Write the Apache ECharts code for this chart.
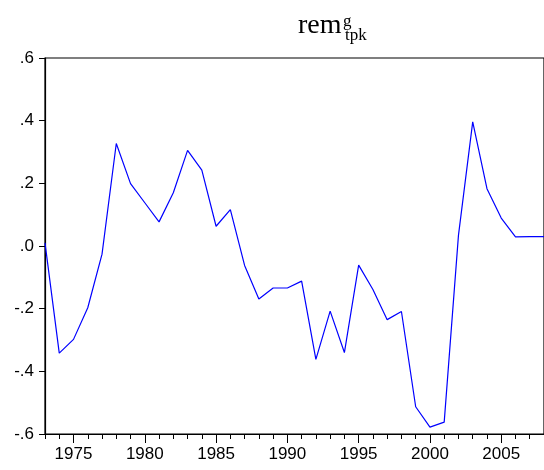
<!DOCTYPE html>
<html>
<head>
<meta charset="utf-8">
<script src="https://cdn.jsdelivr.net/npm/echarts@6/dist/echarts.min.js"></script>
<style>
  html, body { margin: 0; padding: 0; background: #fff; }
  #chart { width: 544px; height: 470px; }
</style>
</head>
<body>
<div id="chart"></div>
<script>
// Annual series, 1973-2008
const years = [
  1973, 1974, 1975, 1976, 1977, 1978, 1979, 1980, 1981, 1982, 1983, 1984,
  1985, 1986, 1987, 1988, 1989, 1990, 1991, 1992, 1993, 1994, 1995, 1996,
  1997, 1998, 1999, 2000, 2001, 2002, 2003, 2004, 2005, 2006, 2007, 2008
];
const remValues = [
  0.010, -0.342, -0.298, -0.197, -0.026, 0.327, 0.199, 0.138, 0.077, 0.170, 0.305, 0.242,
  0.063, 0.116, -0.062, -0.169, -0.134, -0.134, -0.112, -0.362, -0.208, -0.340, -0.061, -0.139,
  -0.235, -0.209, -0.513, -0.578, -0.562, 0.034, 0.396, 0.183, 0.089, 0.029, 0.030, 0.030
];
const yTicks = [-0.6, -0.4, -0.2, 0.0, 0.2, 0.4, 0.6];

const cats = years.map(String);
const isMajor = (i) => years[i] % 5 === 0;
const fmtY = (v) => {
  const s = (Math.round(v * 10) / 10).toFixed(1);
  return s.replace('0.', '.');
};

const chart = echarts.init(document.getElementById('chart'));
const axisFont = { fontFamily: 'Liberation Sans, Arial, sans-serif', fontSize: 17, color: '#000' };
const serif = '"Liberation Serif", "Times New Roman", serif';

chart.setOption({
  animation: false,
  backgroundColor: '#fff',
  grid: {
    left: 45, top: 58, width: 504, height: 376,
    show: true, borderColor: '#000', borderWidth: 1.2, backgroundColor: 'transparent'
  },
  graphic: [
    { type: 'text', left: 298, top: 12,
      style: { text: 'rem', font: '28px ' + serif, fill: '#000' } },
    { type: 'text', left: 343, top: 13,
      style: { text: 'g', font: '17px ' + serif, fill: '#000' } },
    { type: 'text', left: 345, top: 27,
      style: { text: 'tpk', font: '17px ' + serif, fill: '#000' } }
  ],
  xAxis: [
    {
      // yearly minor ticks
      type: 'category', data: cats, boundaryGap: false, position: 'bottom',
      axisLine: { show: true, onZero: false, lineStyle: { color: '#000', width: 1.2 } },
      axisTick: { show: true, length: 5, interval: 0, lineStyle: { color: '#000', width: 1 } },
      axisLabel: { show: false },
      splitLine: { show: false }
    },
    {
      // five-year major ticks with labels
      type: 'category', data: cats, boundaryGap: false, position: 'bottom',
      axisLine: { show: false, onZero: false },
      axisTick: { show: true, length: 9, interval: (i) => isMajor(i), lineStyle: { color: '#000', width: 1 } },
      axisLabel: Object.assign({ show: true, interval: (i) => isMajor(i), margin: 12 }, axisFont),
      splitLine: { show: false }
    }
  ],
  yAxis: {
    type: 'value', min: yTicks[0], max: yTicks[yTicks.length - 1], interval: 0.2,
    axisLine: { show: true, onZero: false, lineStyle: { color: '#000', width: 1.2 } },
    axisTick: { show: true, length: 6, lineStyle: { color: '#000', width: 1 } },
    axisLabel: Object.assign({ formatter: fmtY, margin: 11 }, axisFont),
    splitLine: { show: false }
  },
  series: [{
    type: 'line', xAxisIndex: 0, data: remValues,
    symbol: 'none', lineStyle: { color: '#0000ff', width: 1.2 }, clip: true
  }]
});
</script>
</body>
</html>
